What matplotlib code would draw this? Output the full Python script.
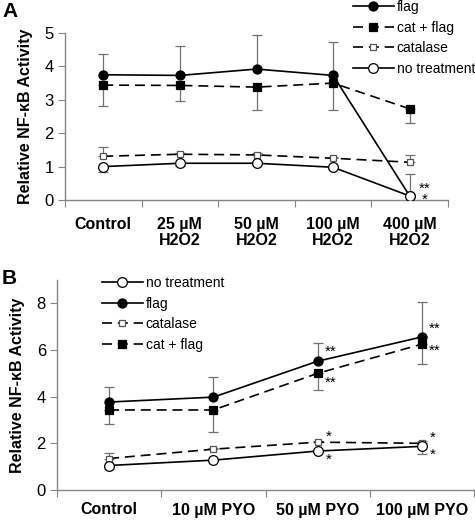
import matplotlib
matplotlib.use("Agg")
import matplotlib.pyplot as plt
import numpy as np

plt.rcParams['font.family'] = ['Liberation Sans', 'DejaVu Sans']

# ---------------- Panel A data ----------------
cats_a = ["Control", "25 µM\nH2O2", "50 µM\nH2O2", "100 µM\nH2O2", "400 µM\nH2O2"]
a_flag = [3.75, 3.73, 3.92, 3.73, 0.12]
a_flag_up = [0.62, 0.89, 1.02, 1.00, 0.0]
a_catflag = [3.44, 3.43, 3.38, 3.50, 2.73]
a_catflag_lo = [0.64, 0.48, 0.69, 0.81, 0.43]
a_catalase = [1.31, 1.37, 1.35, 1.25, 1.13]
a_catalase_up = [0.27, 0.05, 0.05, 0.05, 0.22]
a_nt = [1.00, 1.10, 1.10, 0.98, 0.12]
a_nt_lo = [0.17, 0.08, 0.05, 0.05, 0.0]
a_nt_up = [0.0, 0.0, 0.0, 0.0, 0.66]

# ---------------- Panel B data ----------------
cats_b = ["Control", "10 µM PYO", "50 µM PYO", "100 µM PYO"]
b_nt = [1.05, 1.28, 1.67, 1.87]
b_nt_lo = [0.15, 0.05, 0.05, 0.32]
b_flag = [3.77, 3.98, 5.52, 6.56]
b_flag_up = [0.63, 0.86, 0.78, 1.49]
b_catalase = [1.35, 1.75, 2.05, 2.00]
b_catalase_up = [0.25, 0.05, 0.05, 0.10]
b_catflag = [3.43, 3.43, 5.00, 6.25]
b_catflag_lo = [0.58, 0.95, 0.72, 0.85]

W, H = 475, 522
fig = plt.figure(figsize=(W / 100, H / 100), dpi=100)

GRAY = "#858585"
ERR = "#707070"
DASH = (0, (6, 3.5))

styles = {
    "flag": dict(ls="-", marker="o", mfc="black", mec="black", ms=6.5),
    "cat + flag": dict(ls=DASH, marker="s", mfc="black", mec="black", ms=6),
    "catalase": dict(ls=DASH, marker="s", mfc="white", mec="#555555", ms=5),
    "no treatment": dict(ls="-", marker="o", mfc="white", mec="black", ms=7),
}


def draw(ax, x, y, lo, up, name):
    st = styles[name]
    ax.errorbar(x, y, yerr=[lo, up], fmt="none", ecolor=ERR, elinewidth=0.9,
                capsize=3.5, capthick=0.9, zorder=2)
    ax.plot(x, y, color="black", lw=1.2, linestyle=st["ls"], marker=st["marker"],
            mfc=st["mfc"], mec=st["mec"], ms=st["ms"], mew=0.9, zorder=3, label=name)


def style_axes(ax, n, cats, pad):
    for s in ["top", "right"]:
        ax.spines[s].set_visible(False)
    for s in ["left", "bottom"]:
        ax.spines[s].set_color(GRAY)
        ax.spines[s].set_linewidth(1.0)
    ax.set_xlim(-0.5, n - 0.5)
    ax.set_xticks(np.arange(n + 1) - 0.5)
    ax.set_xticklabels([""] * (n + 1))
    ax.set_xticks(np.arange(n), minor=True)
    ax.set_xticklabels(cats, minor=True, fontweight="bold", fontsize=11.5,
                       linespacing=1.1)
    ax.tick_params(axis="x", which="major", length=5, color=GRAY, direction="out")
    ax.tick_params(axis="x", which="minor", length=0, pad=pad)
    ax.tick_params(axis="y", length=5, color=GRAY, direction="out", labelsize=12, pad=3)


LEG = dict(frameon=False, fontsize=10, handlelength=2.95, handletextpad=0.2,
           labelspacing=0.48, borderpad=0.0, borderaxespad=0)

# ---------------- Panel A ----------------
axA = fig.add_axes([65 / W, 1 - 200 / H, (448 - 65) / W, (200 - 33) / H])
xa = np.arange(len(cats_a))
zeros_a = [0] * len(xa)
draw(axA, xa, a_flag, zeros_a, a_flag_up, "flag")
draw(axA, xa, a_catflag, a_catflag_lo, zeros_a, "cat + flag")
draw(axA, xa, a_catalase, zeros_a, a_catalase_up, "catalase")
draw(axA, xa, a_nt, a_nt_lo, a_nt_up, "no treatment")
axA.set_ylim(0, 5)
axA.set_yticks(range(0, 6))
style_axes(axA, len(cats_a), cats_a, 12)
axA.set_ylabel("Relative NF-κB Activity", fontweight="bold", fontsize=11.5)
axA.yaxis.set_label_coords(-0.084, 0.5)
axA.annotate("**\n*", (xa[4], a_nt[4]), xytext=(11, 1), textcoords="offset points",
             fontsize=11, ha="center", va="center", multialignment="center",
             linespacing=0.75)
hA, lA = axA.get_legend_handles_labels()
fig.legend(hA, lA, loc="upper left", bbox_to_anchor=(353 / W, 1 - 0 / H), **LEG)

# ---------------- Panel B ----------------
axB = fig.add_axes([57 / W, 1 - 490 / H, (474 - 57) / W, (490 - 280) / H])
xb = np.arange(len(cats_b))
zeros_b = [0] * len(xb)
draw(axB, xb, b_flag, zeros_b, b_flag_up, "flag")
draw(axB, xb, b_catflag, b_catflag_lo, zeros_b, "cat + flag")
draw(axB, xb, b_catalase, zeros_b, b_catalase_up, "catalase")
draw(axB, xb, b_nt, b_nt_lo, zeros_b, "no treatment")
axB.set_ylim(0, 9)
axB.set_yticks([0, 2, 4, 6, 8])
style_axes(axB, len(cats_b), cats_b, 9)
axB.set_ylabel("Relative NF-κB Activity", fontweight="bold", fontsize=11.5)
axB.yaxis.set_label_coords(-0.077, 0.5)

stars_b = [
    (b_flag, 2, "**", (5, 7)), (b_catflag, 2, "**", (5, -7)),
    (b_flag, 3, "**", (5, 6)), (b_catflag, 3, "**", (5, -5)),
    (b_catalase, 2, "*", (6, 4)), (b_nt, 2, "*", (6, -6)),
    (b_catalase, 3, "*", (6, 4)), (b_nt, 3, "*", (6, -6)),
]
for series, i, txt, off in stars_b:
    axB.annotate(txt, (xb[i], series[i]), xytext=off, textcoords="offset points",
                 fontsize=11, ha="left", va="center")

hB, lB = axB.get_legend_handles_labels()
order = ["no treatment", "flag", "catalase", "cat + flag"]
hmap = dict(zip(lB, hB))
fig.legend([hmap[k] for k in order], order, loc="upper left",
           bbox_to_anchor=(102 / W, 1 - 276 / H), **LEG)

fig.text(2 / W, 1 - 2 / H, "A", fontsize=15, fontweight="bold", ha="left", va="top")
fig.text(2 / W, 1 - 269 / H, "B", fontsize=15, fontweight="bold", ha="left", va="top")

fig.savefig("out.png", dpi=100)
